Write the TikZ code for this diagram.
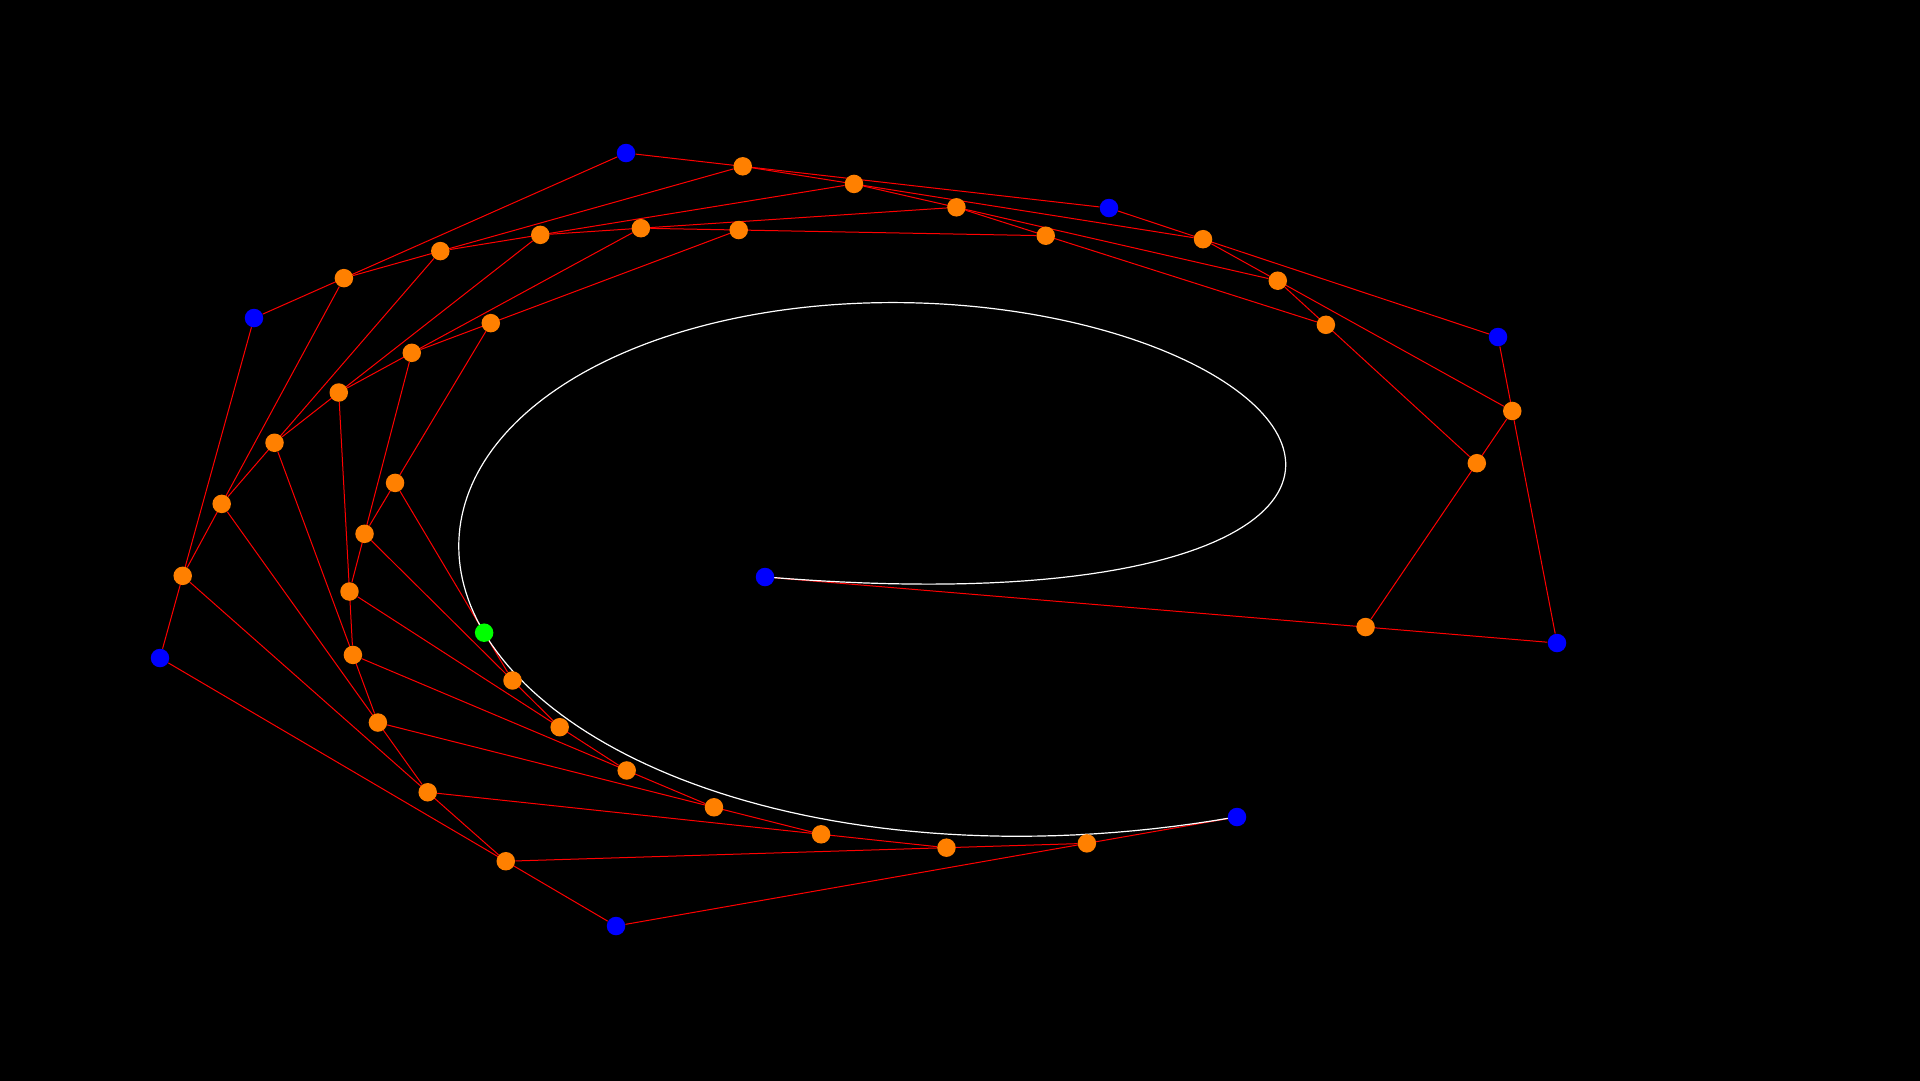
\documentclass[tikz,border=0pt]{standalone}
\usepackage{xcolor}
\usetikzlibrary{calc,backgrounds}
\definecolor{orangept}{RGB}{255,128,0}
\newcommand{\tval}{0.7583}
\newcommand{\invt}{(1-\x)}
% degree 8 Bernstein sum, control values in units of 100 px
\newcommand{\bez}[9]{#1*\invt*\invt*\invt*\invt*\invt*\invt*\invt*\invt
  +8*#2*\x*\invt*\invt*\invt*\invt*\invt*\invt*\invt
  +28*#3*\x*\x*\invt*\invt*\invt*\invt*\invt*\invt
  +56*#4*\x*\x*\x*\invt*\invt*\invt*\invt*\invt
  +70*#5*\x*\x*\x*\x*\invt*\invt*\invt*\invt
  +56*#6*\x*\x*\x*\x*\x*\invt*\invt*\invt
  +28*#7*\x*\x*\x*\x*\x*\x*\invt*\invt
  +8*#8*\x*\x*\x*\x*\x*\x*\x*\invt
  +#9*\x*\x*\x*\x*\x*\x*\x*\x}

\begin{document}
\begin{tikzpicture}[
  x=0.02cm, y=-0.02cm,
  ctrl/.style={circle, fill=blue, inner sep=0pt, minimum size=0.37cm},
  mid/.style={circle, fill=orangept, inner sep=0pt, minimum size=0.37cm},
  hit/.style={circle, fill=green, inner sep=0pt, minimum size=0.37cm},
  hull/.style={draw=red, line width=0.02cm},
  curve/.style={draw=white, line width=0.024cm}
]
\useasboundingbox (0,0) rectangle (1920,1080);
% control points
\node[ctrl] (p0) at (765,577) {};
\node[ctrl] (p1) at (1557,643) {};
\node[ctrl] (p2) at (1498,337) {};
\node[ctrl] (p3) at (1109,208) {};
\node[ctrl] (p4) at (626,153) {};
\node[ctrl] (p5) at (254,318) {};
\node[ctrl] (p6) at (160,658) {};
\node[ctrl] (p7) at (616,926) {};
\node[ctrl] (p8) at (1237,817) {};
% first level
\node[mid] (q0) at ($(p0)!\tval!(p1)$) {};
\node[mid] (q1) at ($(p1)!\tval!(p2)$) {};
\node[mid] (q2) at ($(p2)!\tval!(p3)$) {};
\node[mid] (q3) at ($(p3)!\tval!(p4)$) {};
\node[mid] (q4) at ($(p4)!\tval!(p5)$) {};
\node[mid] (q5) at ($(p5)!\tval!(p6)$) {};
\node[mid] (q6) at ($(p6)!\tval!(p7)$) {};
\node[mid] (q7) at ($(p7)!\tval!(p8)$) {};
% second level
\node[mid] (r0) at ($(q0)!\tval!(q1)$) {};
\node[mid] (r1) at ($(q1)!\tval!(q2)$) {};
\node[mid] (r2) at ($(q2)!\tval!(q3)$) {};
\node[mid] (r3) at ($(q3)!\tval!(q4)$) {};
\node[mid] (r4) at ($(q4)!\tval!(q5)$) {};
\node[mid] (r5) at ($(q5)!\tval!(q6)$) {};
\node[mid] (r6) at ($(q6)!\tval!(q7)$) {};
% third level
\node[mid] (s0) at ($(r0)!\tval!(r1)$) {};
\node[mid] (s1) at ($(r1)!\tval!(r2)$) {};
\node[mid] (s2) at ($(r2)!\tval!(r3)$) {};
\node[mid] (s3) at ($(r3)!\tval!(r4)$) {};
\node[mid] (s4) at ($(r4)!\tval!(r5)$) {};
\node[mid] (s5) at ($(r5)!\tval!(r6)$) {};
% fourth level
\node[mid] (u0) at ($(s0)!\tval!(s1)$) {};
\node[mid] (u1) at ($(s1)!\tval!(s2)$) {};
\node[mid] (u2) at ($(s2)!\tval!(s3)$) {};
\node[mid] (u3) at ($(s3)!\tval!(s4)$) {};
\node[mid] (u4) at ($(s4)!\tval!(s5)$) {};
% fifth level
\node[mid] (v0) at ($(u0)!\tval!(u1)$) {};
\node[mid] (v1) at ($(u1)!\tval!(u2)$) {};
\node[mid] (v2) at ($(u2)!\tval!(u3)$) {};
\node[mid] (v3) at ($(u3)!\tval!(u4)$) {};
% sixth level
\node[mid] (w0) at ($(v0)!\tval!(v1)$) {};
\node[mid] (w1) at ($(v1)!\tval!(v2)$) {};
\node[mid] (w2) at ($(v2)!\tval!(v3)$) {};
% seventh level
\node[mid] (z0) at ($(w0)!\tval!(w1)$) {};
\node[mid] (z1) at ($(w1)!\tval!(w2)$) {};
% point on the curve
\node[hit] (g) at ($(z0)!\tval!(z1)$) {};
\begin{pgfonlayer}{background}
\fill[black] (-10,-10) rectangle (1930,1090);
\draw[hull] (p0) -- (p1) -- (p2) -- (p3) -- (p4) -- (p5) -- (p6) -- (p7) -- (p8);
\draw[hull] (q0) -- (q1) -- (q2) -- (q3) -- (q4) -- (q5) -- (q6) -- (q7);
\draw[hull] (r0) -- (r1) -- (r2) -- (r3) -- (r4) -- (r5) -- (r6);
\draw[hull] (s0) -- (s1) -- (s2) -- (s3) -- (s4) -- (s5);
\draw[hull] (u0) -- (u1) -- (u2) -- (u3) -- (u4);
\draw[hull] (v0) -- (v1) -- (v2) -- (v3);
\draw[hull] (w0) -- (w1) -- (w2);
\draw[hull] (z0) -- (z1);
\draw[curve, x=2cm, y=-2cm] plot[domain=0:1, samples=241]
  ({\bez{7.65}{15.57}{14.98}{11.09}{6.26}{2.54}{1.60}{6.16}{12.37}},
   {\bez{5.77}{6.43}{3.37}{2.08}{1.53}{3.18}{6.58}{9.26}{8.17}});
\end{pgfonlayer}
\end{tikzpicture}
\end{document}
